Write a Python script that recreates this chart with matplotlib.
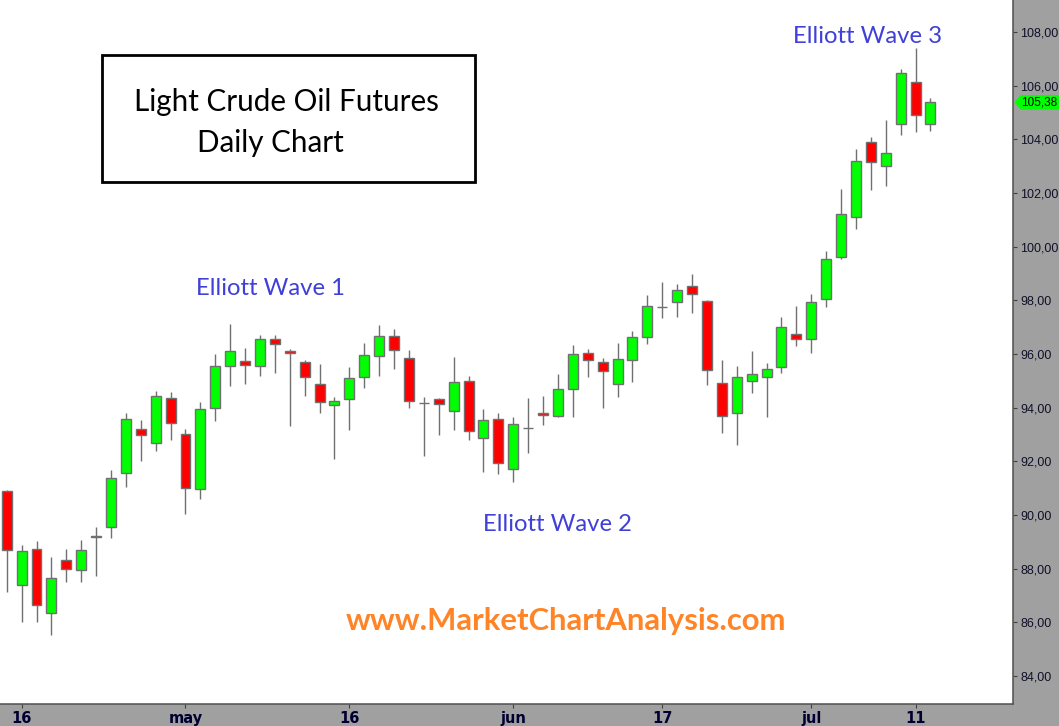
import matplotlib
matplotlib.use("Agg")
import matplotlib.pyplot as plt
import matplotlib.patches as mpatches
import matplotlib.transforms as mtransforms

# daily OHLC, light crude oil futures, 15 apr .. 12 jul
opens = [90.88, 87.38, 88.72, 86.33, 88.31, 87.94, 89.22, 89.56, 91.55, 93.19,
         92.67, 94.35, 93.01, 90.96, 93.97, 95.54, 95.73, 95.54, 96.55, 96.10,
         95.69, 94.87, 94.09, 94.31, 95.13, 95.91, 96.66, 95.84, 94.17, 94.31,
         93.86, 94.98, 92.86, 93.56, 91.70, 93.25, 93.79, 93.68, 94.68, 96.02,
         95.69, 94.87, 95.76, 96.62, 97.75, 97.93, 98.52, 97.96, 94.91, 93.81,
         94.98, 95.13, 95.50, 96.73, 96.55, 98.04, 99.60, 101.09, 103.89, 102.99,
         104.56, 106.13, 104.56]
highs = [90.93, 88.88, 89.03, 88.43, 88.73, 89.07, 89.55, 91.68, 93.80, 93.54,
         94.62, 94.58, 93.20, 94.20, 96.00, 97.12, 96.21, 96.71, 96.71, 96.18,
         95.76, 95.61, 94.38, 95.50, 96.41, 97.08, 96.93, 96.14, 94.38, 94.35,
         95.89, 95.17, 93.94, 93.79, 93.64, 94.35, 94.42, 95.24, 96.32, 96.17,
         95.84, 96.40, 96.86, 98.19, 98.67, 98.61, 98.98, 98.00, 95.76, 95.54,
         96.10, 95.65, 97.38, 97.79, 98.23, 99.84, 102.14, 103.63, 104.08, 104.71,
         106.61, 107.39, 105.53]
lows = [87.14, 86.02, 86.02, 85.54, 87.51, 87.51, 87.74, 89.15, 91.05, 92.02,
        92.39, 92.79, 90.05, 90.61, 93.51, 94.82, 94.89, 95.19, 95.30, 93.33,
        94.44, 93.81, 92.10, 93.18, 94.74, 95.19, 95.45, 93.97, 92.19, 92.99,
        93.18, 92.78, 91.61, 91.51, 91.22, 92.32, 93.36, 93.64, 93.66, 95.15,
        94.00, 94.41, 94.97, 96.38, 97.35, 97.39, 97.54, 94.85, 93.07, 92.62,
        94.56, 93.64, 95.30, 96.30, 96.05, 97.76, 99.55, 100.67, 102.10, 102.27,
        104.17, 104.28, 104.32]
closes = [88.69, 88.64, 86.64, 87.64, 87.97, 88.68, 89.16, 91.37, 93.56, 92.97,
          94.42, 93.42, 90.99, 93.94, 95.54, 96.10, 95.58, 96.55, 96.36, 96.02,
          95.13, 94.20, 94.24, 95.09, 95.95, 96.66, 96.14, 94.25, 94.17, 94.12,
          94.94, 93.12, 93.53, 91.92, 93.38, 93.25, 93.71, 94.68, 95.99, 95.76,
          95.35, 95.80, 96.62, 97.78, 97.75, 98.37, 98.22, 95.39, 93.68, 95.13,
          95.24, 95.43, 96.99, 96.55, 97.93, 99.53, 101.21, 103.18, 103.14, 103.48,
          106.46, 104.90, 105.38]

tick_idx = [1, 12, 23, 34, 44, 54, 61]
tick_labels = ['16', 'may', '16', 'jun', '17', 'jul', '11']
price_ticks = [84, 86, 88, 90, 92, 94, 96, 98, 100, 102, 104, 106, 108]

W, H = 1059, 726
BG = '#a0a0a0'
EDGE = '#707070'


def fx(px):
    return px / W


def fy(py):
    return 1 - py / H


fig = plt.figure(figsize=(W / 100, H / 100), dpi=100, facecolor=BG)
ax = fig.add_axes([0, fy(704.3), fx(1013.3), 704.3 / H])
ax.set_facecolor('white')

x = list(range(len(opens)))
cols = []
for o, c in zip(opens, closes):
    if c > o:
        cols.append('#00ff00')
    elif c < o:
        cols.append('#ff0000')
    else:
        cols.append(EDGE)

ax.vlines(x, lows, highs, color=EDGE, lw=1.0, zorder=2)
bottoms = [min(o, c) for o, c in zip(opens, closes)]
heights = [abs(c - o) for o, c in zip(opens, closes)]
ax.bar(x, heights, bottom=bottoms, width=0.67, color=cols,
       edgecolor=EDGE, linewidth=1.0, zorder=3)

ax.set_xlim(-0.45, 67.56)
ax.set_ylim(82.94, 109.19)

ax.yaxis.tick_right()
ax.set_yticks(price_ticks)
ax.set_yticklabels([f'{v:.2f}'.replace('.', ',') for v in price_ticks],
                   family='Liberation Sans', fontsize=9, color='#101028')
ax.tick_params(axis='y', direction='out', length=3, width=0.8,
               color='#404040', pad=2)

ax.set_xticks(tick_idx)
ax.set_xticklabels(tick_labels,
                   family=['Liberation Sans Narrow', 'DejaVu Sans'],
                   fontsize=10.5, color='#000030', fontweight='bold')
ax.tick_params(axis='x', direction='out', length=3, width=0.8,
               color='#404040', pad=1.5)

for s in ['top', 'left']:
    ax.spines[s].set_visible(False)
for s in ['right', 'bottom']:
    ax.spines[s].set_color('#505050')
    ax.spines[s].set_linewidth(1.1)

# last price tag
last = closes[-1]
tr = mtransforms.blended_transform_factory(fig.transFigure, ax.transData)
tag = mpatches.Polygon([(fx(1014.3), last), (fx(1021.0), last + 0.27),
                        (1.0, last + 0.27), (1.0, last - 0.27),
                        (fx(1021.0), last - 0.27)],
                       closed=True, transform=tr, facecolor='#00ff00',
                       edgecolor='none', clip_on=False, zorder=5)
fig.add_artist(tag)
fig.text(fx(1021), last, f'{last:.2f}'.replace('.', ','), transform=tr,
         family='Liberation Sans', fontsize=8.5, color='black',
         va='center', ha='left', zorder=6)

# title box
box = mpatches.Rectangle((fx(101.7), fy(181.7)), fx(475) - fx(101.7),
                         fy(55) - fy(181.7), transform=fig.transFigure,
                         facecolor='white', edgecolor='black', lw=2, zorder=4)
fig.add_artist(box)
fig.text(fx(286), fy(110.7), 'Light Crude Oil Futures', family='Lato',
         fontsize=21.3, ha='center', va='baseline', zorder=6)
fig.text(fx(270), fy(151.7), 'Daily Chart', family='Lato',
         fontsize=21.3, ha='center', va='baseline', zorder=6)

blue = '#4040d8'
fig.text(fx(270), fy(295), 'Elliott Wave 1', family='Lato', fontsize=17.2,
         color=blue, ha='center', va='baseline', zorder=6)
fig.text(fx(557.5), fy(531), 'Elliott Wave 2', family='Lato', fontsize=17.2,
         color=blue, ha='center', va='baseline', zorder=6)
fig.text(fx(867.5), fy(43), 'Elliott Wave 3', family='Lato', fontsize=17.2,
         color=blue, ha='center', va='baseline', zorder=6)

fig.text(fx(566), fy(630), 'www.MarketChartAnalysis.com', family='Lato',
         fontsize=22.3, fontweight='bold', color='#ff8427',
         ha='center', va='baseline', zorder=6)

fig.savefig('out.png', dpi=100, facecolor=BG)
